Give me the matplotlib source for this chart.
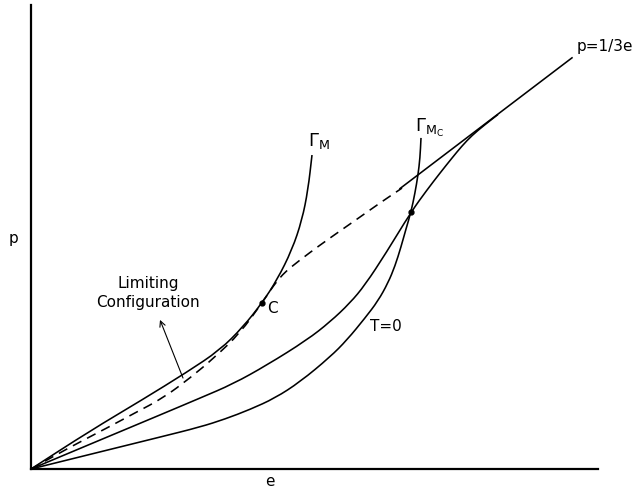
import matplotlib
matplotlib.use("Agg")
import matplotlib.pyplot as plt
from matplotlib.path import Path
from matplotlib.patches import PathPatch
import numpy as np

# ---- data (schematic units: e horizontal, p vertical, p = e/3 line) ----
gm_e = [0, 0.59, 1.11, 1.56, 1.89, 2.12, 2.31, 2.46, 2.61, 2.71, 2.77, 2.81]
gm_p = [0, 0.167, 0.303, 0.425, 0.522, 0.623, 0.728, 0.829, 0.961, 1.092, 1.224, 1.377]

lim_e = [0, 0.39, 0.76, 1.04, 1.32, 1.59, 1.84, 2.09, 2.31, 2.49, 2.69, 2.89, 3.09, 3.29, 3.49, 3.71]
lim_p = [0, 0.096, 0.180, 0.246, 0.311, 0.399, 0.491, 0.596, 0.728, 0.846, 0.917, 0.982, 1.044, 1.105, 1.167, 1.232]

mid_e = [0, 0.69, 1.29, 1.69, 2.02, 2.36, 2.76, 2.99, 3.19, 3.34, 3.55, 3.80, 3.96, 4.09,
         4.21, 4.31, 4.41, 4.53, 4.67]
mid_p = [0, 0.127, 0.237, 0.311, 0.373, 0.456, 0.566, 0.645, 0.728, 0.807, 0.947, 1.127, 1.224, 1.298,
         1.364, 1.417, 1.463, 1.507, 1.555]

t0_e = [0, 0.69, 1.29, 1.69, 1.94, 2.19, 2.44, 2.69, 2.99, 3.16, 3.34, 3.47, 3.57, 3.64, 3.70,
        3.75, 3.80, 3.84, 3.87, 3.89, 3.90]
t0_p = [0, 0.075, 0.140, 0.184, 0.219, 0.261, 0.311, 0.382, 0.491, 0.566, 0.662, 0.737, 0.816, 0.890, 0.974,
        1.053, 1.127, 1.211, 1.289, 1.364, 1.452]

line_e = [3.69, 5.41]
line_p = [e / 3 for e in line_e]

pts_e = [2.31, 3.80]
pts_p = [0.728, 1.127]

E_MAX, P_MAX = 5.67, 2.035


def smooth_path(xs, ys):
    """Quadratic-Bezier path through the midpoints of the given points."""
    P = np.column_stack([xs, ys])
    verts = [P[0], (P[0] + P[1]) / 2]
    codes = [Path.MOVETO, Path.LINETO]
    for i in range(1, len(P) - 1):
        verts += [P[i], (P[i] + P[i + 1]) / 2]
        codes += [Path.CURVE3, Path.CURVE3]
    verts.append(P[-1])
    codes.append(Path.LINETO)
    return Path(verts, codes)


fig = plt.figure(figsize=(6.37, 4.90), dpi=100)
ax = fig.add_axes([31 / 637, 21 / 490, 567 / 637, 464 / 490])
ax.set_xlim(0, E_MAX)
ax.set_ylim(0, P_MAX)
for s in ("top", "right"):
    ax.spines[s].set_visible(False)
for s in ("left", "bottom"):
    ax.spines[s].set_linewidth(1.6)
ax.set_xticks([])
ax.set_yticks([])

lw = 1.15
ax.plot(line_e, line_p, color="black", lw=lw)
for xs, ys, ls in ((gm_e, gm_p, "-"), (mid_e, mid_p, "-"), (t0_e, t0_p, "-"),
                   (lim_e, lim_p, (0, (6, 4)))):
    ax.add_patch(PathPatch(smooth_path(xs, ys), fill=False, edgecolor="black",
                           lw=lw, linestyle=ls, capstyle="butt"))
ax.plot(pts_e, pts_p, "o", color="black", markersize=3.5)

fs = 11
ax.text(5.46, 1.855, "p=1/3e", fontsize=11, ha="left", va="center", clip_on=False)
ax.text(2.77, 1.439, r"$\Gamma_\mathrm{M}$", fontsize=13, ha="left", va="center")
ax.text(3.84, 1.496, r"$\Gamma_{\mathrm{M}_\mathrm{C}}$", fontsize=13, ha="left", va="center")
ax.text(2.36, 0.702, "C", fontsize=fs, ha="left", va="center")
ax.text(3.39, 0.623, "T=0", fontsize=fs, ha="left", va="center")
ax.text(1.17, 0.772, "Limiting\nConfiguration", fontsize=fs, ha="center", va="center",
        linespacing=1.3)
ax.annotate("", xy=(1.29, 0.654), xytext=(1.52, 0.399),
            arrowprops=dict(arrowstyle="->", lw=0.8, color="black", shrinkA=0, shrinkB=0))
ax.text(-0.18, 1.009, "p", fontsize=fs, ha="center", va="center", clip_on=False)
ax.text(2.39, -0.053, "e", fontsize=fs, ha="center", va="center", clip_on=False)

fig.savefig("out.png", dpi=100)
